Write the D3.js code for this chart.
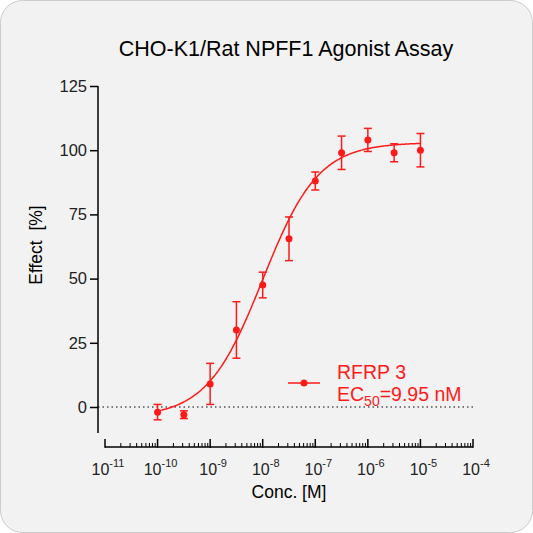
<!DOCTYPE html><html><head><script src="https://cdn.jsdelivr.net/npm/d3@7"></script>
<style>body{margin:0;background:#fff}svg{display:block}</style></head><body><svg id="c" width="533" height="533"></svg>
<script>
const logConc=[-10,-9.5,-9,-8.5,-8,-7.5,-7,-6.5,-6,-5.5,-5];
const effect=[-2,-3,9,30,47.5,65.5,88,99,104,99,100];
const errs=[3,1.5,8,11,5,8.5,3.5,6.5,4.5,3.5,6.5];
const yTicks=[0,25,50,75,100,125];
const xDecades=[-11,-10,-9,-8,-7,-6,-5,-4];
const fit={bottom:-4,top:103,logEC50:Math.log10(9.95e-9),hill:0.82};
const svg=d3.select("#c");
const FF="Liberation Sans, Arial";
svg.append("rect").attr("x",0.5).attr("y",0.5).attr("width",532).attr("height",532).attr("rx",22).attr("fill","#f2f2f2").attr("stroke","#ccc");
const x=d3.scaleLinear().domain([-11,-4]).range([105,473]);
const y=d3.scaleLinear().domain([0,125]).range([407,86]);
const red="#ff1a1a";
svg.append("text").attr("x",286).attr("y",56).attr("text-anchor","middle").attr("font-family",FF).attr("font-size",21.5).text("CHO-K1/Rat NPFF1 Agonist Assay");
const ya=svg.append("g").attr("transform","translate(98,0)").call(d3.axisLeft(y).tickValues(yTicks).tickSize(8).tickSizeOuter(0));
ya.select(".domain").attr("d","M0,86V433").attr("stroke-width",1.5);
ya.selectAll("line").attr("stroke-width",1.5);
ya.selectAll("text").attr("font-family",FF).attr("font-size",16.5).attr("fill","#222");
const gx=svg.append("g");
gx.append("line").attr("x1",x(-11)).attr("x2",x(-4)).attr("y1",447).attr("y2",447).attr("stroke","#000").attr("stroke-width",1.5);
const minor=[];xDecades.slice(0,-1).forEach(d=>{for(let k=2;k<10;k++)minor.push(d+Math.log10(k));});
gx.selectAll(".mn").data(minor).enter().append("line").attr("x1",d=>x(d)).attr("x2",d=>x(d)).attr("y1",447).attr("y2",443).attr("stroke","#000");
gx.selectAll(".mj").data(xDecades).enter().append("line").attr("x1",d=>x(d)).attr("x2",d=>x(d)).attr("y1",447.7).attr("y2",439).attr("stroke","#000").attr("stroke-width",1.5);
const lab=gx.selectAll(".lb").data(xDecades).enter().append("text").attr("x",d=>x(d)+3).attr("y",475).attr("text-anchor","middle").attr("font-family",FF).attr("font-size",16).attr("fill","#222");
lab.append("tspan").text("10");lab.append("tspan").attr("dy",-8).attr("font-size",11).text(d=>d);
svg.append("text").attr("x",289).attr("y",498).attr("text-anchor","middle").attr("font-family",FF).attr("font-size",17.5).text("Conc. [M]");
svg.append("text").attr("transform","translate(42,245) rotate(-90)").attr("text-anchor","middle").attr("font-family",FF).attr("font-size",17.5).attr("xml:space","preserve").text("Effect  [%]");
svg.append("line").attr("x1",98).attr("x2",473).attr("y1",y(0)).attr("y2",y(0)).attr("stroke","#000").attr("stroke-dasharray","1.5,3");
const xs=d3.range(-10,-4.999,0.02);
const f=v=>fit.bottom+(fit.top-fit.bottom)/(1+Math.pow(10,(fit.logEC50-v)*fit.hill));
svg.append("path").datum(xs).attr("d",d3.line().x(d=>x(d)).y(d=>y(f(d)))).attr("fill","none").attr("stroke",red).attr("stroke-width",1.5);
const pts=logConc.map((c,i)=>({c,v:effect[i],e:errs[i]}));
const eb=svg.append("g").attr("stroke",red).attr("stroke-width",1.5);
pts.forEach(p=>{eb.append("line").attr("x1",x(p.c)).attr("x2",x(p.c)).attr("y1",y(p.v-p.e)).attr("y2",y(p.v+p.e));
[p.v-p.e,p.v+p.e].forEach(v=>eb.append("line").attr("x1",x(p.c)-4).attr("x2",x(p.c)+4).attr("y1",y(v)).attr("y2",y(v)));});
svg.selectAll(".pt").data(pts).enter().append("circle").attr("cx",d=>x(d.c)).attr("cy",d=>y(d.v)).attr("r",3.5).attr("fill",red);
svg.append("line").attr("x1",288).attr("x2",320).attr("y1",383).attr("y2",383).attr("stroke",red).attr("stroke-width",1.5);
svg.append("circle").attr("cx",304).attr("cy",383).attr("r",3.5).attr("fill",red);
svg.append("text").attr("x",337).attr("y",379).attr("font-family",FF).attr("font-size",19.5).attr("fill",red).text("RFRP 3");
const t2=svg.append("text").attr("x",337).attr("y",401).attr("font-family",FF).attr("font-size",19.5).attr("fill",red);
t2.append("tspan").text("EC");t2.append("tspan").attr("dy",5).attr("font-size",14).text("50");t2.append("tspan").attr("dy",-5).text("=9.95 nM");
</script></body></html>
